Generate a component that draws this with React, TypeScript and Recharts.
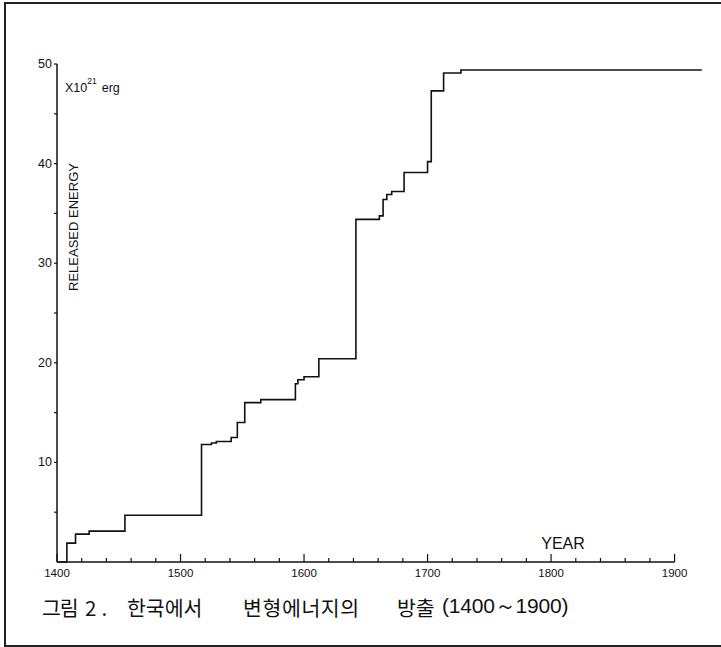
import { LineChart, Line, XAxis, YAxis, ReferenceLine } from "recharts";

// cumulative released energy (x10^21 erg) in Korea, step changes by year
const years = [1400, 1408, 1415, 1426, 1455, 1517, 1525, 1529, 1541, 1546, 1552, 1565, 1593, 1595, 1600, 1612, 1642, 1661, 1664, 1667, 1671, 1681, 1700, 1703, 1713, 1727, 1922];
const energy = [0, 1.9, 2.8, 3.1, 4.7, 11.8, 11.95, 12.1, 12.5, 14.0, 16.0, 16.3, 17.9, 18.3, 18.6, 20.4, 34.4, 34.75, 36.4, 36.9, 37.2, 39.1, 40.2, 47.3, 49.1, 49.4, 49.4];

const xTicks = [1400, 1420, 1440, 1460, 1480, 1500, 1520, 1540, 1560, 1580, 1600, 1620, 1640, 1660, 1680, 1700, 1720, 1740, 1760, 1780, 1800, 1820, 1840, 1860, 1880, 1900];
const yTicks = [0, 5, 10, 15, 20, 25, 30, 35, 40, 45, 50];

const captionWords = ["그림", "2.", "한국에서", "변형에너지의", "방출", "(1400～1900)"];

const data = years.map((y, i) => ({ year: y, energy: energy[i] }));

const INK = "#111";
const LABEL_FONT = "'Liberation Sans', Arial, sans-serif";
const KR_FONT = "'Noto Sans CJK KR', 'Noto Sans', sans-serif";

const XTick = ({ x, y, payload }: any) => {
  const major = payload.value % 100 === 0;
  return (
    <g>
      <line x1={x} x2={x} y1={y} y2={y - (major ? 8 : 4)} stroke={INK} strokeWidth={1.2} />
      {major && (
        <text x={x} y={y + 15} textAnchor="middle" fontSize={11.5} fontFamily={LABEL_FONT} fill={INK}>
          {payload.value}
        </text>
      )}
    </g>
  );
};

const YTick = ({ x, y, payload }: any) => {
  const major = payload.value % 10 === 0;
  return (
    <g>
      {payload.value > 0 && <line x1={x} x2={x - 3} y1={y} y2={y} stroke={INK} strokeWidth={1.2} />}
      {major && payload.value > 0 && (
        <text x={x - 5} y={y + 4} textAnchor="end" fontSize={12.5} fontFamily={LABEL_FONT} fill={INK}>
          {payload.value}
        </text>
      )}
    </g>
  );
};

const capStyle = (left: number, extra: any = {}) => ({
  position: "absolute" as const,
  left,
  top: 0,
  whiteSpace: "nowrap" as const,
  ...extra,
});

export default function App() {
  return (
    <div style={{ position: "absolute", left: 0, top: 0, width: 721, height: 647, background: "#fff", overflow: "hidden" }}>
      {/* page frame */}
      <div style={{ position: "absolute", left: 4, top: 2, width: 730, height: 641, borderLeft: "2px solid #222", borderTop: "2px solid #222", borderBottom: "2px solid #222" }} />

      <LineChart width={721} height={647} data={data} margin={{ top: 64, right: 18, bottom: 0, left: 0 }}>
        <XAxis
          type="number"
          dataKey="year"
          domain={[1400, 1923]}
          ticks={xTicks}
          interval={0}
          axisLine={false}
          tickLine={false}
          tickSize={0}
          tickMargin={0}
          height={85}
          tick={<XTick />}
        />
        <YAxis
          type="number"
          domain={[0, 50]}
          ticks={yTicks}
          interval={0}
          width={57}
          axisLine={{ stroke: INK, strokeWidth: 1.5 }}
          tickLine={false}
          tickSize={0}
          tickMargin={0}
          tick={<YTick />}
        />
        <ReferenceLine
          segment={[{ x: 1400, y: 0 }, { x: 1900, y: 0 }]}
          stroke={INK}
          strokeWidth={1.5}
          ifOverflow="visible"
        />
        <Line
          type="stepAfter"
          dataKey="energy"
          stroke={INK}
          strokeWidth={1.6}
          dot={false}
          isAnimationActive={false}
        />
      </LineChart>

      {/* axis titles */}
      <svg width={721} height={647} style={{ position: "absolute", left: 0, top: 0, pointerEvents: "none" }}>
        <text x={65} y={92} fontSize={12.5} fontFamily={LABEL_FONT} fill={INK}>
          X10
          <tspan dy={-8} fontSize={8.5}>21</tspan>
          <tspan dy={8} dx={5}>erg</tspan>
        </text>
        <text
          x={78}
          y={227}
          transform="rotate(-90 78 227)"
          textAnchor="middle"
          fontSize={13}
          fontFamily={LABEL_FONT}
          fill={INK}
        >
          RELEASED ENERGY
        </text>
        <text x={563} y={549} textAnchor="middle" fontSize={16} fontFamily={LABEL_FONT} fill={INK}>
          YEAR
        </text>
      </svg>

      {/* caption */}
      <div
        style={{
          position: "absolute",
          left: 0,
          top: 593,
          width: 721,
          height: 28,
          fontFamily: KR_FONT,
          fontSize: 20.5,
          color: INK,
          lineHeight: "28px",
        }}
      >
        <span style={capStyle(42, { letterSpacing: -1 })}>{captionWords[0]}</span>
        <span style={capStyle(85, { letterSpacing: 5 })}>{captionWords[1]}</span>
        <span style={capStyle(127, { letterSpacing: 0 })}>{captionWords[2]}</span>
        <span style={capStyle(243, { letterSpacing: 0.6 })}>{captionWords[3]}</span>
        <span style={capStyle(397, { letterSpacing: 0 })}>{captionWords[4]}</span>
        <span style={capStyle(442, { fontFamily: LABEL_FONT, fontSize: 21, letterSpacing: -0.2, top: -1 })}>{captionWords[5]}</span>
      </div>
    </div>
  );
}
